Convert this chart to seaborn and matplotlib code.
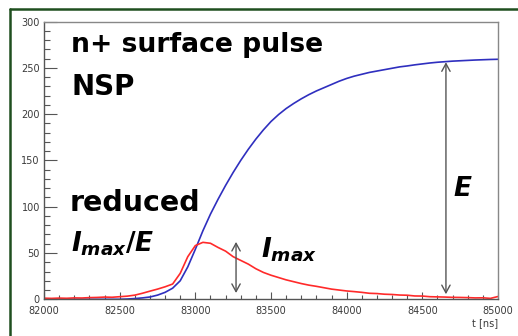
import matplotlib
matplotlib.use("Agg")
import matplotlib.pyplot as plt
import matplotlib.lines as mlines
import seaborn as sns
import pandas as pd
from matplotlib.ticker import MultipleLocator

# Sampled time axis (ns) and the two traces
t_ns = [82000, 82050, 82100, 82150, 82200, 82250, 82300, 82350, 82400, 82450,
        82500, 82550, 82600, 82650, 82700, 82750, 82800, 82850, 82900, 82950,
        83000, 83050, 83100, 83150, 83200, 83250, 83300, 83350, 83400, 83450,
        83500, 83550, 83600, 83650, 83700, 83750, 83800, 83850, 83900, 83950,
        84000, 84050, 84100, 84150, 84200, 84250, 84300, 84350, 84400, 84450,
        84500, 84550, 84600, 84650, 84700, 84750, 84800, 84850, 84900, 84950,
        85000]

charge = [0, 0, 0, 0, 0, 0, 0, 0, 0, 0,
          0, 0.3, 0.8, 1.5, 2.5, 4.5, 7.5, 12, 20, 35,
          54, 74, 92, 108, 123, 137, 150, 162, 173, 183,
          192, 199.5, 206, 211.5, 216.5, 221, 225, 228.5, 232, 235.5,
          238.5, 241, 243, 245, 246.5, 248, 249.5, 251, 252, 253.2,
          254.2, 255.2, 256, 256.6, 257.2, 257.6, 258, 258.4, 258.7, 259,
          259.2]

current = [1.2, 1.0, 1.3, 1.1, 1.5, 1.4, 1.8, 2.0, 2.4, 2.2,
           2.8, 3.4, 4.5, 6.5, 8.8, 11, 13.5, 16.5, 28, 46,
           58, 61.5, 60.5, 56, 52, 46, 42, 38, 33, 29,
           26, 23.5, 21, 19, 17, 15.3, 14, 12.5, 11, 10,
           9, 8.3, 7.5, 6.5, 6.2, 5.5, 5.2, 4.6, 4.4, 3.6,
           3.5, 2.8, 2.6, 2.4, 2.1, 2.0, 1.8, 1.5, 1.6, 1.0,
           3.0]

# Annotation arrows: (time, low, high)
e_arrow = (84656, 5.5, 256)
imax_arrow = (83269, 6.8, 62)

x_ticks = [82000, 82500, 83000, 83500, 84000, 84500, 85000]
y_ticks = [0, 50, 100, 150, 200, 250, 300]

sns.set_style("white")
plt.rcParams.update({
    "font.family": ["DejaVu Sans"],
    "mathtext.fontset": "custom",
    "mathtext.it": "DejaVu Sans:italic:bold",
    "mathtext.rm": "DejaVu Sans:bold",
    "xtick.direction": "in",
    "ytick.direction": "in",
    "xtick.bottom": True,
    "ytick.left": True,
    "xtick.minor.visible": True,
    "ytick.minor.visible": True,
})

df = pd.DataFrame({"t": t_ns, "charge": charge, "current": current})

fig = plt.figure(figsize=(5.18, 3.36), dpi=100)
ax = fig.add_axes([44 / 518, 1 - 299.3 / 336, (498 - 44) / 518, (299.3 - 21.5) / 336])

sns.lineplot(data=df, x="t", y="charge", ax=ax, color="#2f2fbf", lw=1.2)
sns.lineplot(data=df, x="t", y="current", ax=ax, color="#ff2a2a", lw=1.2)

ax.set_xlim(82000, 85000)
ax.set_ylim(0, 300)
ax.set_xticks(x_ticks)
ax.set_yticks(y_ticks)
ax.xaxis.set_minor_locator(MultipleLocator(100))
ax.yaxis.set_minor_locator(MultipleLocator(10))
ax.set_xlabel("")
ax.set_ylabel("")

tick_font = dict(family="DejaVu Sans", size=7.0)
ax.set_xticklabels([str(v) for v in x_ticks], color="#3a3a3a", fontdict=tick_font)
ax.set_yticklabels([str(v) for v in y_ticks], color="#3a3a3a", fontdict=tick_font)
ax.tick_params(axis="y", which="major", direction="in", length=9, width=0.8,
               color="#555555", pad=3, left=True)
ax.tick_params(axis="y", which="minor", direction="in", length=4.3, width=0.8,
               color="#555555", left=True)
ax.tick_params(axis="x", which="major", direction="in", length=5.4, width=0.8,
               color="#555555", pad=4.6, bottom=True)
ax.tick_params(axis="x", which="minor", direction="in", length=2.7, width=0.8,
               color="#555555", bottom=True)
for s in ax.spines.values():
    s.set_color("#888888")
    s.set_linewidth(1.0)
ax.spines["left"].set_color("#555555")
ax.spines["bottom"].set_color("#555555")

ax.text(1.0, -0.068, "t [ns]", transform=ax.transAxes, ha="right", va="top",
        family="DejaVu Sans", size=7.0, color="#3a3a3a")

arrow_style = dict(arrowstyle="<->,head_length=0.55,head_width=0.3", color="#555555", lw=1.0,
                   shrinkA=0, shrinkB=0)
for (tx, lo, hi) in (e_arrow, imax_arrow):
    ax.annotate("", xy=(tx, hi), xytext=(tx, lo), arrowprops=arrow_style)

big = dict(weight="bold", color="black", ha="left", va="baseline")
fig.text(71 / 518, 1 - 52 / 336, "n+ surface pulse", size=19.2, **big)
fig.text(71 / 518, 1 - 95 / 336, "NSP", size=20, **big)
fig.text(70 / 518, 1 - 211 / 336, "reduced", size=20.5, **big)
fig.text(71 / 518, 1 - 251 / 336, r"$I_{max}/E$", size=19, **big)
fig.text(261 / 518, 1 - 258 / 336, r"$I_{max}$", size=19, **big)
fig.text(453 / 518, 1 - 196 / 336, r"$E$", size=19, **big)

# dark green slide frame along the top and left edge
fig.add_artist(mlines.Line2D([10 / 518, 1.0], [1 - 9 / 336, 1 - 9 / 336],
                             transform=fig.transFigure, color="#1f4f1f", lw=1.8))
fig.add_artist(mlines.Line2D([10 / 518, 10 / 518], [0.0, 1 - 9 / 336],
                             transform=fig.transFigure, color="#1f4f1f", lw=1.8))

fig.savefig("out.png", dpi=100)
